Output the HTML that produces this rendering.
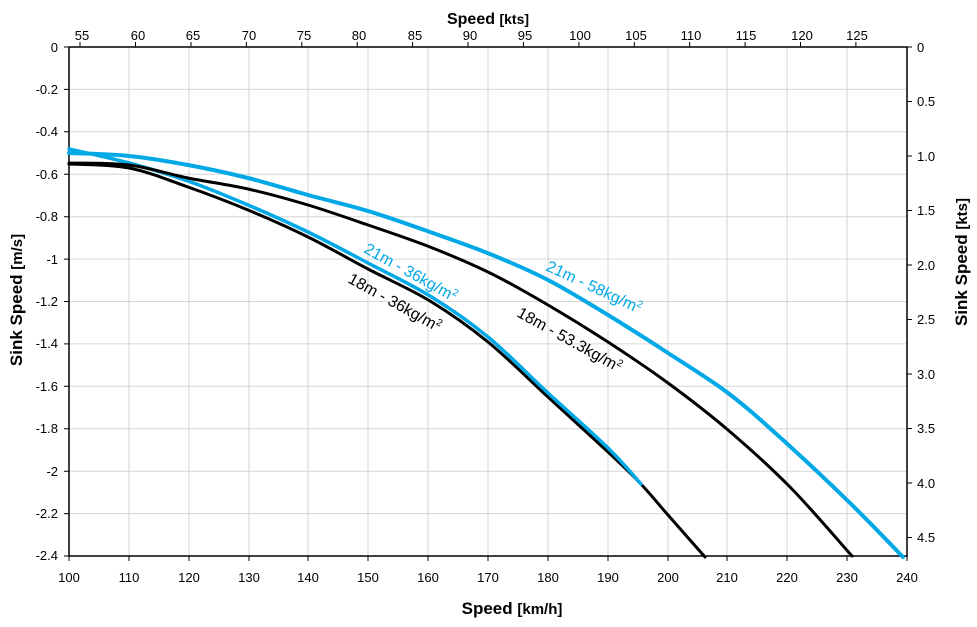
<!DOCTYPE html>
<html><head><meta charset="utf-8"><style>
body{margin:0;background:#fff;}
svg{display:block;font-family:"Liberation Sans",sans-serif;}
</style></head><body>
<svg id="s" width="977" height="627" viewBox="0 0 977 627" xmlns="http://www.w3.org/2000/svg">
<rect width="977" height="627" fill="#fff"/>
<g stroke="#d6d6d6" stroke-width="1">
<line x1="129" y1="47" x2="129" y2="556"/><line x1="189" y1="47" x2="189" y2="556"/>
<line x1="249" y1="47" x2="249" y2="556"/><line x1="308" y1="47" x2="308" y2="556"/>
<line x1="368" y1="47" x2="368" y2="556"/><line x1="428" y1="47" x2="428" y2="556"/>
<line x1="488" y1="47" x2="488" y2="556"/><line x1="548" y1="47" x2="548" y2="556"/>
<line x1="608" y1="47" x2="608" y2="556"/><line x1="668" y1="47" x2="668" y2="556"/>
<line x1="727" y1="47" x2="727" y2="556"/><line x1="787" y1="47" x2="787" y2="556"/>
<line x1="847" y1="47" x2="847" y2="556"/>
<line x1="69" y1="89.4" x2="907" y2="89.4"/><line x1="69" y1="131.8" x2="907" y2="131.8"/>
<line x1="69" y1="174.3" x2="907" y2="174.3"/><line x1="69" y1="216.7" x2="907" y2="216.7"/>
<line x1="69" y1="259.1" x2="907" y2="259.1"/><line x1="69" y1="301.5" x2="907" y2="301.5"/>
<line x1="69" y1="343.9" x2="907" y2="343.9"/><line x1="69" y1="386.3" x2="907" y2="386.3"/>
<line x1="69" y1="428.8" x2="907" y2="428.8"/><line x1="69" y1="471.2" x2="907" y2="471.2"/>
<line x1="69" y1="513.6" x2="907" y2="513.6"/>
</g>
<g stroke="#000" stroke-width="1.5" fill="none">
<path d="M69 47V556H907V47H69"/>
</g>
<g stroke="#000" stroke-width="1">
<path d="M64 47h5M64 89.4h5M64 131.8h5M64 174.3h5M64 216.7h5M64 259.1h5M64 301.5h5M64 343.9h5M64 386.3h5M64 428.8h5M64 471.2h5M64 513.6h5M64 556h5"/>
<path d="M69 556v5M129 556v5M189 556v5M249 556v5M308 556v5M368 556v5M428 556v5M488 556v5M548 556v5M608 556v5M668 556v5M727 556v5M787 556v5M847 556v5M907 556v5"/>
<path d="M907 47h5M907 101.5h5M907 156h5M907 210.5h5M907 265h5M907 319.5h5M907 374h5M907 428.5h5M907 483h5M907 537.5h5"/>
<path d="M80 47v-5M135.5 47v-5M191 47v-5M246.4 47v-5M301.8 47v-5M357.2 47v-5M412.6 47v-5M468 47v-5M523.4 47v-5M578.9 47v-5M634.3 47v-5M689.7 47v-5M745.1 47v-5M800.5 47v-5M855.9 47v-5"/>
</g>
<g font-size="13" fill="#000" text-anchor="end">
<text x="58" y="52">0</text><text x="58" y="94">-0.2</text><text x="58" y="136">-0.4</text>
<text x="58" y="179">-0.6</text><text x="58" y="221">-0.8</text><text x="58" y="264">-1</text>
<text x="58" y="306">-1.2</text><text x="58" y="348">-1.4</text><text x="58" y="391">-1.6</text>
<text x="58" y="433">-1.8</text><text x="58" y="476">-2</text><text x="58" y="518">-2.2</text>
<text x="58" y="560">-2.4</text>
</g>
<g font-size="13" fill="#000" text-anchor="middle">
<text x="69" y="582">100</text><text x="129" y="582">110</text><text x="189" y="582">120</text>
<text x="249" y="582">130</text><text x="308" y="582">140</text><text x="368" y="582">150</text>
<text x="428" y="582">160</text><text x="488" y="582">170</text><text x="548" y="582">180</text>
<text x="608" y="582">190</text><text x="668" y="582">200</text><text x="727" y="582">210</text>
<text x="787" y="582">220</text><text x="847" y="582">230</text><text x="907" y="582">240</text>
<text x="82" y="40">55</text><text x="138" y="40">60</text><text x="193" y="40">65</text>
<text x="249" y="40">70</text><text x="304" y="40">75</text><text x="359" y="40">80</text>
<text x="415" y="40">85</text><text x="470" y="40">90</text><text x="525" y="40">95</text>
<text x="580" y="40">100</text><text x="636" y="40">105</text><text x="691" y="40">110</text>
<text x="746" y="40">115</text><text x="802" y="40">120</text><text x="857" y="40">125</text>
</g>
<g font-size="13" fill="#000">
<text x="917" y="52">0</text><text x="917" y="106">0.5</text><text x="917" y="161">1.0</text>
<text x="917" y="215">1.5</text><text x="917" y="270">2.0</text><text x="917" y="324">2.5</text>
<text x="917" y="379">3.0</text><text x="917" y="433">3.5</text><text x="917" y="488">4.0</text>
<text x="917" y="542">4.5</text>
</g>
<text x="488" y="24" font-size="16" font-weight="bold" text-anchor="middle">Speed <tspan font-size="14">[kts]</tspan></text>
<text x="512" y="614" font-size="17" font-weight="bold" text-anchor="middle">Speed <tspan font-size="15">[km/h]</tspan></text>
<text transform="translate(22,300) rotate(-90)" font-size="17" font-weight="bold" text-anchor="middle">Sink Speed <tspan font-size="15">[m/s]</tspan></text>
<text transform="translate(967,262) rotate(-90)" font-size="17" font-weight="bold" text-anchor="middle">Sink Speed <tspan font-size="15">[kts]</tspan></text>
<g fill="none" stroke-linejoin="round" stroke-linecap="round">
<path id="b36" stroke="#000" stroke-width="3"/>
<path id="c36" stroke="#00a8e6" stroke-width="3.5"/>
<path id="b53" stroke="#000" stroke-width="3"/>
<path id="c58" stroke="#00a8e6" stroke-width="4"/>
</g>
<g font-size="16">
<text transform="translate(363,252) rotate(29)" fill="#00a8e6">21m - 36kg/m<tspan dy="-6" font-size="10">2</tspan></text>
<text transform="translate(347,282) rotate(29)" fill="#000">18m - 36kg/m<tspan dy="-6" font-size="10">2</tspan></text>
<text transform="translate(516,316) rotate(29)" fill="#000">18m - 53.3kg/m<tspan dy="-6" font-size="10">2</tspan></text>
<text transform="translate(545,270) rotate(25)" fill="#00a8e6">21m - 58kg/m<tspan dy="-6" font-size="10">2</tspan></text>
</g>
</svg>
<script>
function cr(p){var d="M"+p[0][0]+" "+p[0][1];for(var i=0;i<p.length-1;i++){var p0=p[i-1]||p[i],p1=p[i],p2=p[i+1],p3=p[i+2]||p2;
d+="C"+(p1[0]+(p2[0]-p0[0])/6)+" "+(p1[1]+(p2[1]-p0[1])/6)+" "+(p2[0]-(p3[0]-p1[0])/6)+" "+(p2[1]-(p3[1]-p1[1])/6)+" "+p2[0]+" "+p2[1];}return d;}
var S={
b36:[[69,164],[129,168],[188,187],[248,210],[308,237],[368,269],[430,301],[488,342],[548,397],[608,452],[640,483],[668,515],[705,557]],
c36:[[69,149],[129,163],[188,181],[248,205],[308,232],[368,263],[430,296],[488,337],[548,393],[608,448],[641,484]],
b53:[[69,163],[129,165],[188,178],[248,189],[308,205],[368,225],[430,247],[490,273],[548,305],[608,342],[668,383],[728,430],[790,487],[852,556]],
c58:[[69,153],[129,156],[188,165],[248,178],[308,195],[368,211],[430,232],[490,254],[548,280],[608,315],[668,353],[728,393],[783,440],[850,503],[903,557]]};
for(var k in S)document.getElementById(k).setAttribute("d",cr(S[k]));
</script>
</body></html>
